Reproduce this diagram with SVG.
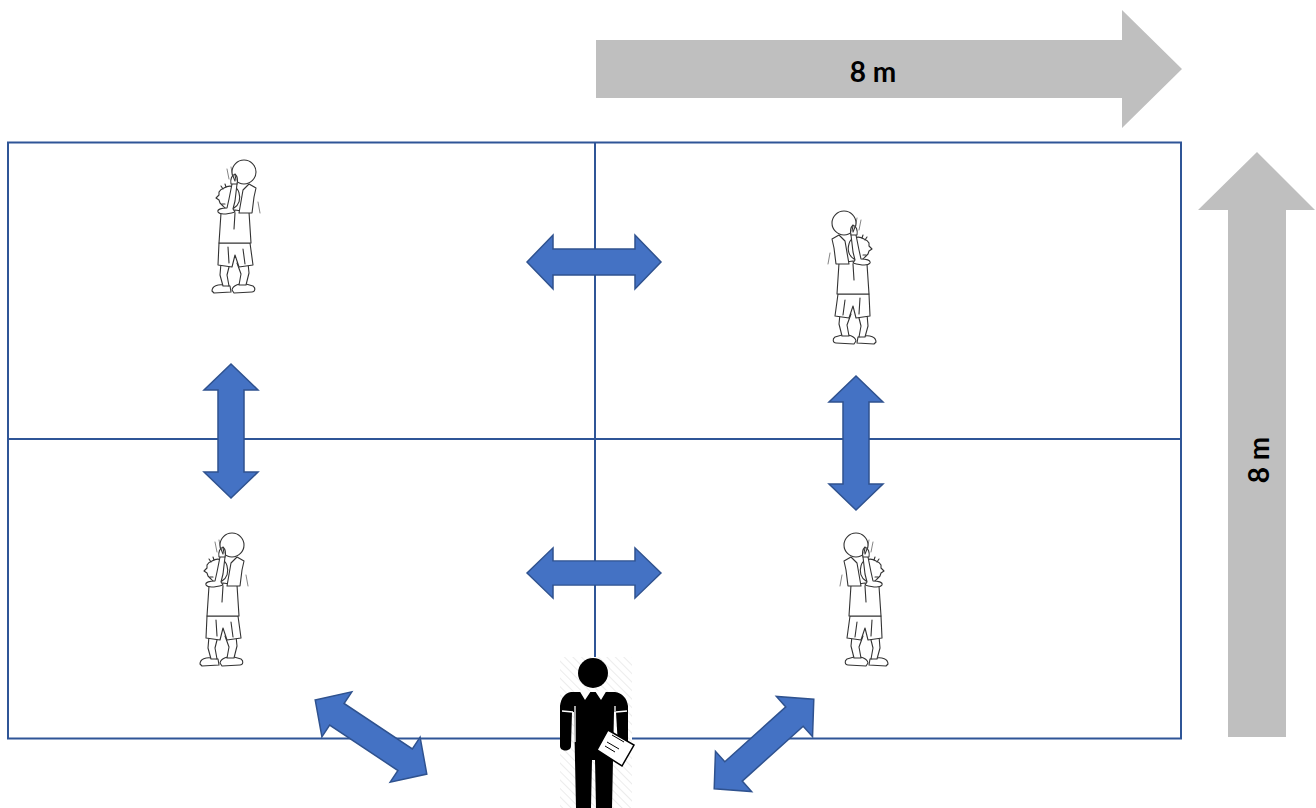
<svg xmlns="http://www.w3.org/2000/svg" width="1316" height="808" viewBox="0 0 1316 808">
  <style>
    .court { fill: none; stroke: #2F5597; stroke-width: 2; }
    .dim { fill: #BFBFBF; }
    .dimtext { font-family: Lato, "Liberation Sans", sans-serif; font-weight: bold; font-size: 28px; fill: #000; text-anchor: middle; dominant-baseline: central; }
    .move { fill: #4472C4; stroke: #2F528F; stroke-width: 1.5; stroke-linejoin: miter; }
    .ink { fill: #fff; stroke: #333; stroke-width: 1.1; stroke-linejoin: round; stroke-linecap: round; }
    .line { fill: none; stroke: #333; stroke-width: 1.1; stroke-linecap: round; stroke-linejoin: round; }
    .soft { fill: none; stroke: #777; stroke-width: 0.9; stroke-linecap: round; }
  </style>
  <defs>
    <!-- double-headed block arrow, centred on the origin, along x -->
    <path id="dbl" d="M -67,0 L -41,-27 L -41,-13 L 41,-13 L 41,-27 L 67,0 L 41,27 L 41,13 L -41,13 L -41,27 Z"/>
    <!-- shooter sketch, ball held above the head (facing left) -->
    <g id="shooter">
      <!-- motion marks -->
      <path class="soft" d="M 19,12 L 21,22 M 23,10 L 25,20 M 50,45 L 52,56"/>
      <!-- shoes -->
      <path class="ink" d="M 4,134 C 4,129 10,127 16,128 L 22,129 L 23,135 L 6,136 Z"/>
      <path class="ink" d="M 24,133 C 25,128 32,126 38,127 L 45,129 C 48,131 47,135 44,135 L 26,136 Z"/>
      <!-- legs -->
      <path class="ink" d="M 13,106 L 12,118 L 15,129 L 21,129 L 19,118 L 22,106 Z"/>
      <path class="ink" d="M 29,106 L 33,117 L 31,128 L 38,128 L 41,116 L 40,106 Z"/>
      <!-- shorts -->
      <path class="ink" d="M 11,86 L 42,86 L 45,108 L 31,110 L 27,98 L 24,110 L 10,108 Z"/>
      <path class="line" d="M 20,90 L 21,106 M 35,92 L 37,107"/>
      <!-- tank top -->
      <path class="ink" d="M 13,56 L 27,53 L 41,55 L 43,86 L 11,86 Z"/>
      <path class="line" d="M 27,56 L 26,72"/>
      <!-- raised arms -->
      <path class="ink" d="M 31,56 L 35,33 L 41,27 L 48,31 L 46,40 L 44,56 Z"/>
      <!-- head in profile -->
      <path class="ink" d="M 16,31 C 22,27 30,30 31,36 C 33,42 31,48 26,51 C 22,53 17,52 15,49 L 12,46 L 11,43 L 8,41 L 11,38 L 11,35 C 12,33 13,32 16,31 Z"/>
      <path class="line" d="M 23,39 C 26,38 27,42 24,43 M 14,47 L 17,47"/>
      <!-- hair tuft -->
      <path class="line" d="M 15,32 L 13,29 M 18,30 L 17,27"/>
      <!-- near arm: elbow forward, hand on the ball -->
      <path class="ink" d="M 27,55 C 20,57 12,58 10,55 C 9,52 14,51 19,51 L 21,42 L 24,27 C 25,24 29,24 29,27 L 27,44 L 25,52 Z"/>
      <!-- ball -->
      <circle class="ink" cx="36" cy="15" r="12"/>
      <!-- fingers over the ball -->
      <path class="ink" d="M 23,27 C 22,22 24,18 27,17 C 29,19 30,23 29,27 Z"/>
      <path class="line" d="M 25,19 L 27,24 M 27,18 L 28,23"/>
    </g>
    <!-- faint hatch behind the coach picture -->
    <pattern id="hatch" width="6" height="6" patternUnits="userSpaceOnUse" patternTransform="rotate(-45)">
      <rect width="6" height="6" fill="#fff"/>
      <line x1="0" y1="0" x2="0" y2="6" stroke="#ececec" stroke-width="2"/>
    </pattern>
  </defs>

  <rect width="1316" height="808" fill="#fff"/>

  <!-- court -->
  <g id="court">
    <rect class="court" x="8" y="142.5" width="1173" height="596"/>
    <line class="court" x1="595" y1="142.5" x2="595" y2="738.5"/>
    <line class="court" x1="8" y1="439" x2="1181" y2="439"/>
  </g>

  <!-- dimension arrows -->
  <g id="dim-width">
    <path class="dim" d="M 596,40 L 1122,40 L 1122,10 L 1182,69 L 1122,128 L 1122,98 L 596,98 Z"/>
    <text class="dimtext" x="873" y="71">8 m</text>
  </g>
  <g id="dim-depth">
    <path class="dim" d="M 1228,737 L 1228,210 L 1198,210 L 1257,152 L 1315,210 L 1286,210 L 1286,737 Z"/>
    <text class="dimtext" transform="translate(1258,460) rotate(-90)">8 m</text>
  </g>

  <!-- movement arrows -->
  <g id="connectors">
    <use href="#dbl" class="move" transform="translate(594,262)"/>
    <use href="#dbl" class="move" transform="translate(594,573) scale(1,0.93)"/>
    <use href="#dbl" class="move" transform="translate(231,431) rotate(90)"/>
    <use href="#dbl" class="move" transform="translate(856,443) rotate(90)"/>
    <use href="#dbl" class="move" transform="translate(371,737) rotate(33.6)"/>
    <use href="#dbl" class="move" transform="translate(764,744) rotate(-42)"/>
  </g>

  <!-- players -->
  <g id="player-top-left">
    <use href="#shooter" transform="translate(208,157)"/>
  </g>
  <g id="player-top-right">
    <use href="#shooter" transform="translate(880,208) scale(-1,1)"/>
  </g>
  <g id="player-bottom-left">
    <use href="#shooter" transform="translate(196,530)"/>
  </g>
  <g id="player-bottom-right">
    <use href="#shooter" transform="translate(892,530) scale(-1,1)"/>
  </g>

  <!-- coach with clipboard -->
  <g id="coach">
    <rect x="560" y="657" width="72" height="151" fill="url(#hatch)"/>
    <circle cx="593" cy="673" r="15" fill="#000"/>
    <!-- suit body with arms and legs -->
    <path fill="#000" d="M 571,692 L 615,692 C 622,693 627,698 628,706 L 628,746 C 628,752 618,752 618,746 L 616,712 L 614,712 L 612,808 L 596,808 L 595,760 L 592,760 L 591,808 L 576,808 L 574,712 L 572,712 L 571,746 C 571,752 560,752 560,746 L 560,706 C 561,698 565,693 571,692 Z"/>
    <!-- seams between sleeves and jacket -->
    <path fill="none" stroke="#fff" stroke-width="1.3" d="M 575,706 L 575,742 M 615,706 L 615,742 M 562,711 L 573,712 M 616,712 L 627,711"/>
    <!-- collar and tie -->
    <path fill="#fff" d="M 579,690 L 591,691 L 585,700 Z M 607,690 L 595,691 L 601,700 Z"/>
    <path fill="#000" d="M 592,692 L 594,692 L 595,702 L 593,705 L 591,702 Z"/>
    <!-- clipboard -->
    <path fill="#fff" stroke="#000" stroke-width="1.5" d="M 608,730 L 634,745 L 622,766 L 597,750 Z"/>
    <path fill="none" stroke="#000" stroke-width="1" d="M 607,742 L 619,749 M 605,746 L 615,752 M 612,735 L 624,742"/>
  </g>
</svg>
